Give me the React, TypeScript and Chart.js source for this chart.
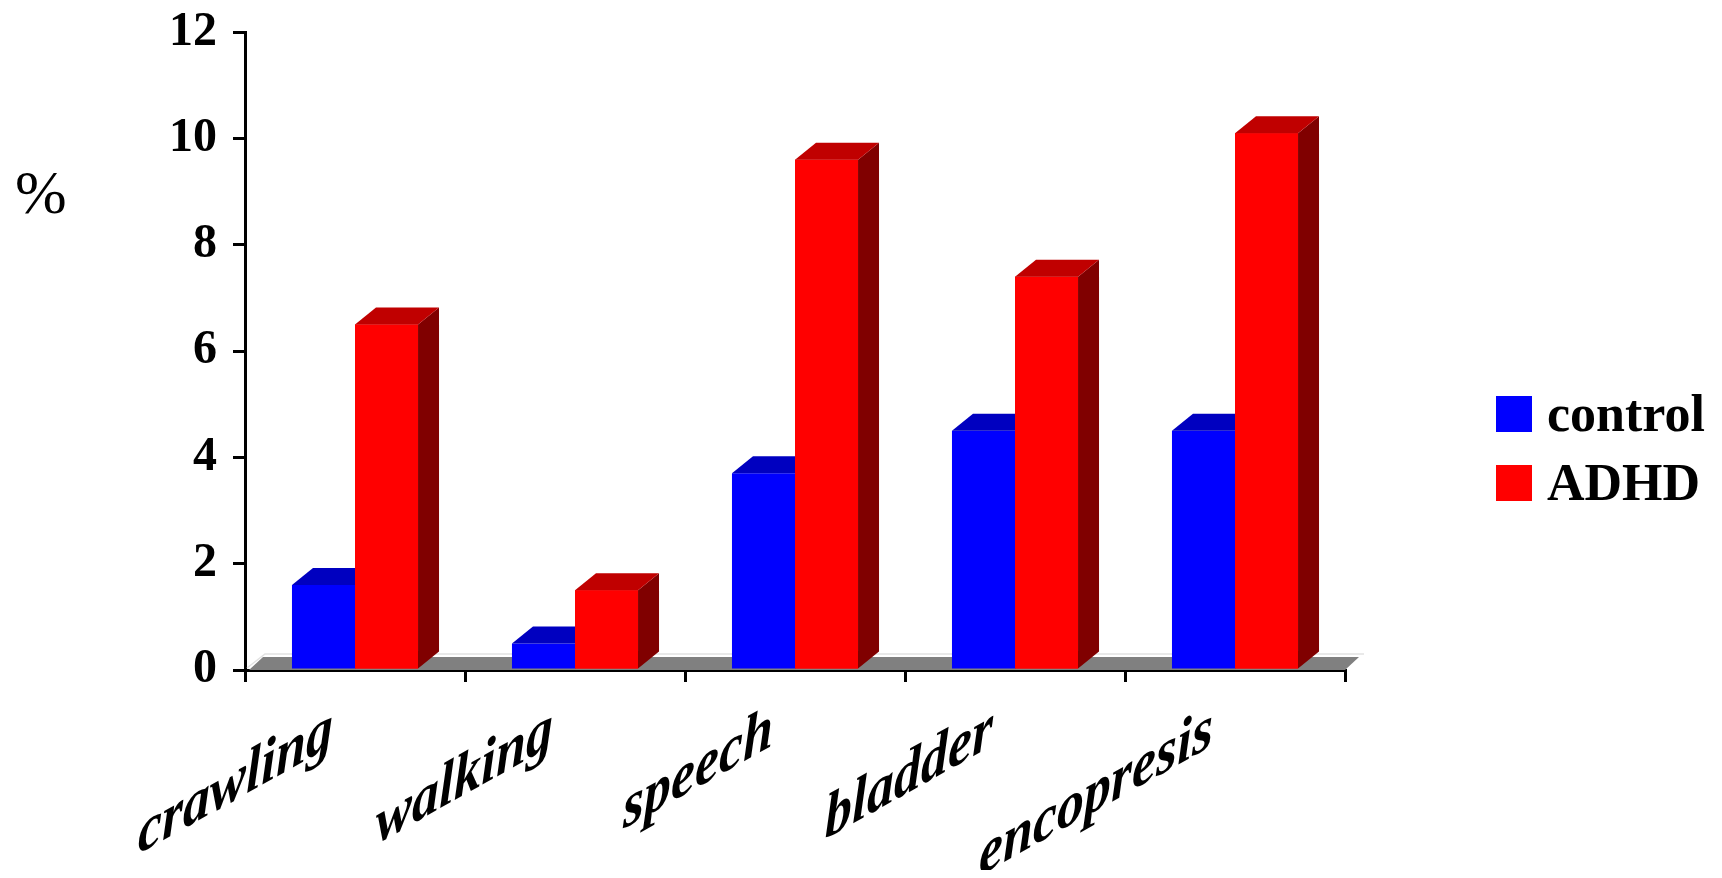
import { useEffect, useRef } from "react";
import { Chart, registerables } from "chart.js";

Chart.register(...registerables);

const categories = ["crawling", "walking", "speech", "bladder", "encopresis"];
const controlValues = [1.6, 0.5, 3.7, 4.5, 4.5];
const adhdValues = [6.5, 1.5, 9.6, 7.4, 10.1];
const seriesNames = ["control", "ADHD"];
const yTicks = [0, 2, 4, 6, 8, 10, 12];
const yAxisLabel = "%";

const SERIF = "'Liberation Serif', 'Times New Roman', serif";
const FRONT = ["#0000FF", "#FF0000"];
const TOP = ["#0000C0", "#C00000"];
const SIDE = ["#000080", "#800000"];
const DX = 21;
const DY = 17;

const bar3d = {
  id: "bar3d",
  beforeDatasetsDraw(chart: any) {
    const ctx = chart.ctx;
    const { left, right } = chart.chartArea;
    const base = chart.scales.y.getPixelForValue(0);
    ctx.save();
    ctx.fillStyle = "#808080";
    ctx.beginPath();
    ctx.moveTo(left + 4, base);
    ctx.lineTo(right, base);
    ctx.lineTo(right + 14, base - 13);
    ctx.lineTo(left + 18, base - 13);
    ctx.closePath();
    ctx.fill();
    ctx.strokeStyle = "#e2e2e2";
    ctx.lineWidth = 1.5;
    ctx.beginPath();
    ctx.moveTo(left + 2, base - 2);
    ctx.lineTo(left + 20, base - 16);
    ctx.lineTo(right + 19, base - 16);
    ctx.stroke();
    ctx.restore();
  },
  afterDatasetsDraw(chart: any) {
    const ctx = chart.ctx;
    ctx.save();
    chart.data.datasets.forEach((_ds: any, di: number) => {
      const meta = chart.getDatasetMeta(di);
      meta.data.forEach((el: any) => {
        const { x, y, base, width } = el.getProps(["x", "y", "base", "width"], true);
        const l = x - width / 2;
        const r = x + width / 2;
        if (di > 0) {
          ctx.fillStyle = FRONT[di];
          ctx.fillRect(l, y, width, base - y);
        }
        ctx.fillStyle = SIDE[di];
        ctx.beginPath();
        ctx.moveTo(r, y);
        ctx.lineTo(r + DX, y - DY);
        ctx.lineTo(r + DX, base - DY);
        ctx.lineTo(r, base);
        ctx.closePath();
        ctx.fill();
        ctx.fillStyle = TOP[di];
        ctx.beginPath();
        ctx.moveTo(l, y);
        ctx.lineTo(r, y);
        ctx.lineTo(r + DX, y - DY);
        ctx.lineTo(l + DX, y - DY);
        ctx.closePath();
        ctx.fill();
      });
    });
    ctx.restore();
  },
  afterDraw(chart: any) {
    const ctx = chart.ctx;
    const xs = chart.scales.x;
    const bottom = chart.chartArea.bottom;
    ctx.save();
    ctx.fillStyle = "#000";
    // category labels, sheared
    ctx.font = `italic bold 54px ${SERIF}`;
    ctx.textAlign = "right";
    ctx.textBaseline = "alphabetic";
    categories.forEach((c, i) => {
      const cx = xs.getPixelForValue(i);
      ctx.save();
      ctx.translate(cx - 22, bottom + 75);
      ctx.transform(1, -0.56, 0, 1.15, 0, 0);
      ctx.fillText(c, 0, 0);
      ctx.restore();
    });
    // y axis unit label
    ctx.font = `normal 62px ${SERIF}`;
    ctx.textAlign = "left";
    ctx.fillText(yAxisLabel, 7, 205);
    // legend
    ctx.font = `bold 52px ${SERIF}`;
    chart.data.datasets.forEach((ds: any, di: number) => {
      const top = 388 + di * 69;
      ctx.fillStyle = ds.backgroundColor;
      ctx.fillRect(1488, top, 36, 36);
      ctx.fillStyle = "#000";
      ctx.fillText(ds.label, 1539, top + 35);
    });
    ctx.restore();
  },
};

export default function App() {
  const ref = useRef<HTMLCanvasElement | null>(null);
  useEffect(() => {
    if (!ref.current) return;
    const chart = new Chart(ref.current, {
      type: "bar",
      data: {
        labels: categories,
        datasets: [
          { label: seriesNames[0], data: controlValues, backgroundColor: FRONT[0], borderWidth: 0 },
          { label: seriesNames[1], data: adhdValues, backgroundColor: FRONT[1], borderWidth: 0 },
        ],
      },
      options: {
        responsive: false,
        animation: false,
        layout: { padding: { left: 0, top: 0, right: 369, bottom: 0 } },
        plugins: { legend: { display: false }, tooltip: { enabled: false } },
        datasets: { bar: { categoryPercentage: 0.573, barPercentage: 1 } },
        scales: {
          x: {
            z: 1,
            offset: true,
            grid: { offset: true, drawOnChartArea: false, drawTicks: true, tickLength: 12, color: "#000", lineWidth: 3 },
            border: { display: true, color: "#000", width: 3 },
            ticks: { display: false },
            afterFit: (s: any) => { s.height = 208; },
          },
          y: {
            z: 1,
            min: 0,
            max: 12,
            afterBuildTicks: (s: any) => { s.ticks = yTicks.map((v) => ({ value: v })); },
            grid: { drawOnChartArea: false, drawTicks: true, tickLength: 12, color: "#000", lineWidth: 3 },
            border: { display: true, color: "#000", width: 3 },
            ticks: {
              color: "#000",
              padding: 16,
              font: { family: SERIF, size: 48, weight: "bold", lineHeight: 0.34 },
            },
            afterFit: (s: any) => { s.width = 237; },
          },
        },
      },
      plugins: [bar3d],
    } as any);
    return () => chart.destroy();
  }, []);
  return <canvas ref={ref} width={1706} height={870} style={{ display: "block", marginBottom: -8 }} />;
}
